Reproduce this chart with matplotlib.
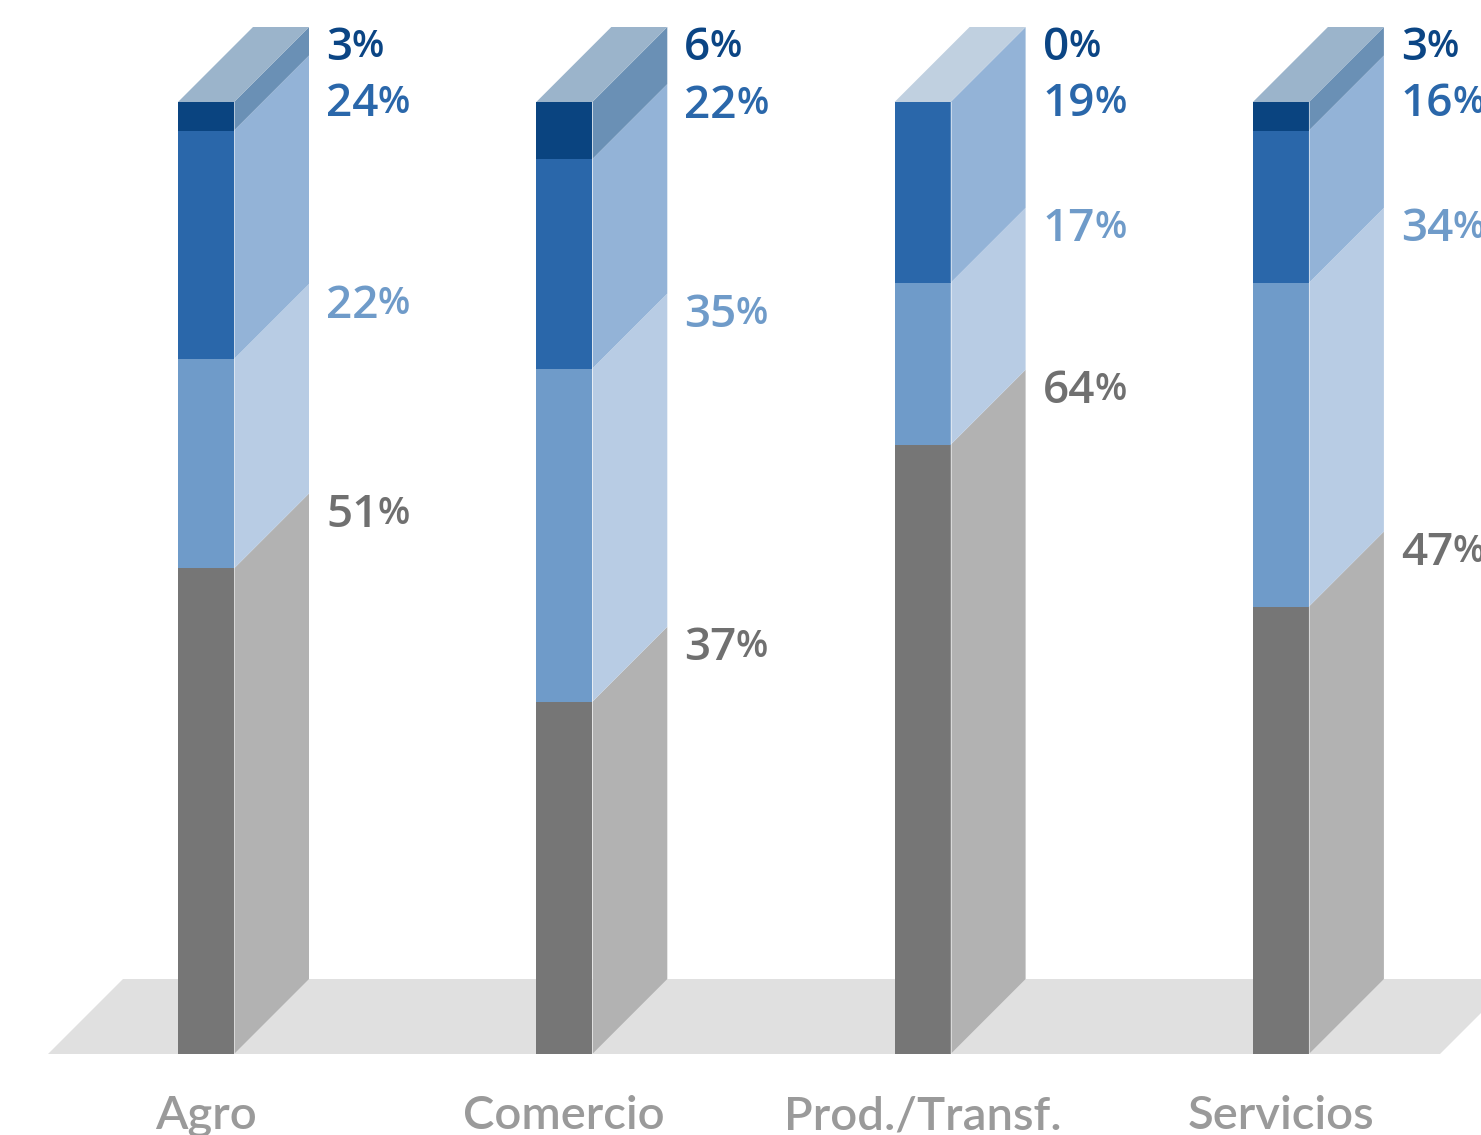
import numpy as np
import matplotlib
matplotlib.use("Agg")
from matplotlib import pyplot as plt
from matplotlib.patches import Polygon

# shares per sector, stacked bottom -> top
categories = ["Agro", "Comercio", "Prod./Transf.", "Servicios"]
share_gray = [51, 37, 64, 47]
share_mid = [22, 35, 17, 34]
share_blue = [24, 22, 19, 16]
share_navy = [3, 6, 0, 3]

# colours per layer: front face, side face, top face, label
front_cols = ["#767676", "#6f9bc9", "#2a67aa", "#0a4480"]
side_cols = ["#b2b2b2", "#b8cce4", "#93b3d7", "#6a90b5"]
top_cols = ["#d0d0d0", "#dbe5f1", "#c0d0e0", "#9bb4cb"]
label_cols = ["#707070", "#6f9bc9", "#2a67aa", "#0b4584"]

W, H, DPI = 1481, 1135, 100
px_x = 358.3          # pixels per category step
px_y = 9.52           # pixels per percent
x0_px, y0_px = 206, 1054

fig = plt.figure(figsize=(W / DPI, H / DPI), dpi=DPI)
ax = fig.add_axes([0, 0, 1, 1])
ax.set_xlim(-x0_px / px_x, (W - x0_px) / px_x)
ax.set_ylim(-(H - y0_px) / px_y, 100 + (y0_px - 100 * px_y) / px_y)
ax.axis("off")

half = 28 / px_x
dx = 75 / px_x
dy = 75 / px_y

# floor slab
fl, fr = -158 / px_x, 1234 / px_x
ax.add_patch(Polygon([(fl, 0), (fr, 0), (fr + dx, dy), (fl + dx, dy)],
                     closed=True, facecolor="#e0e0e0", edgecolor="none", zorder=1))

layers = np.array([share_gray, share_mid, share_blue, share_navy], dtype=float)
gap = 56 / px_y

for i, cat in enumerate(categories):
    vals = layers[:, i]
    tops = np.cumsum(vals)
    bots = tops - vals
    L, R = i - half, i + half
    top_idx = max(k for k in range(4) if vals[k] > 0)
    for k in range(4):
        if vals[k] <= 0:
            continue
        b, t = bots[k], tops[k]
        ax.add_patch(Polygon([(L, b), (R, b), (R, t), (L, t)], closed=True,
                             facecolor=front_cols[k], edgecolor="none", zorder=3))
        ax.add_patch(Polygon([(R, b), (R + dx, b + dy), (R + dx, t + dy), (R, t)], closed=True,
                             facecolor=side_cols[k], edgecolor="none", zorder=3))
        if k == top_idx:
            ax.add_patch(Polygon([(L, t), (R, t), (R + dx, t + dy), (L + dx, t + dy)], closed=True,
                                 facecolor=top_cols[k], edgecolor="none", zorder=3))
    # thin light seam between front and side
    ax.plot([R, R], [0, tops[-1]], color="white", lw=0.6, alpha=0.6, zorder=4)

    # value labels, top to bottom, pushed down when they would collide
    lx = R + dx + 17 / px_x
    prev = None
    for k in range(3, -1, -1):
        yc = tops[k] + dy - 22 / px_y
        if prev is not None:
            yc = min(yc, prev - gap)
        prev = yc
        num = ax.text(lx, yc, f"{int(vals[k])}", ha="left", va="center",
                      fontsize=33, color=label_cols[k], family="Open Sans",
                      weight="semibold", zorder=5)
        ax.annotate("%", xy=(1, 0.12), xycoords=num, xytext=(-0.5, 0), textcoords="offset points",
                    ha="left", va="bottom", fontsize=27, color=label_cols[k],
                    family="Open Sans", weight="semibold", zorder=5)

    ax.text(i, -(1116 - y0_px) / px_y, cat, ha="center", va="center",
            fontsize=34, color="#9a9a9a", family="Lato", weight="semibold")

fig.savefig("out.png", dpi=DPI)
